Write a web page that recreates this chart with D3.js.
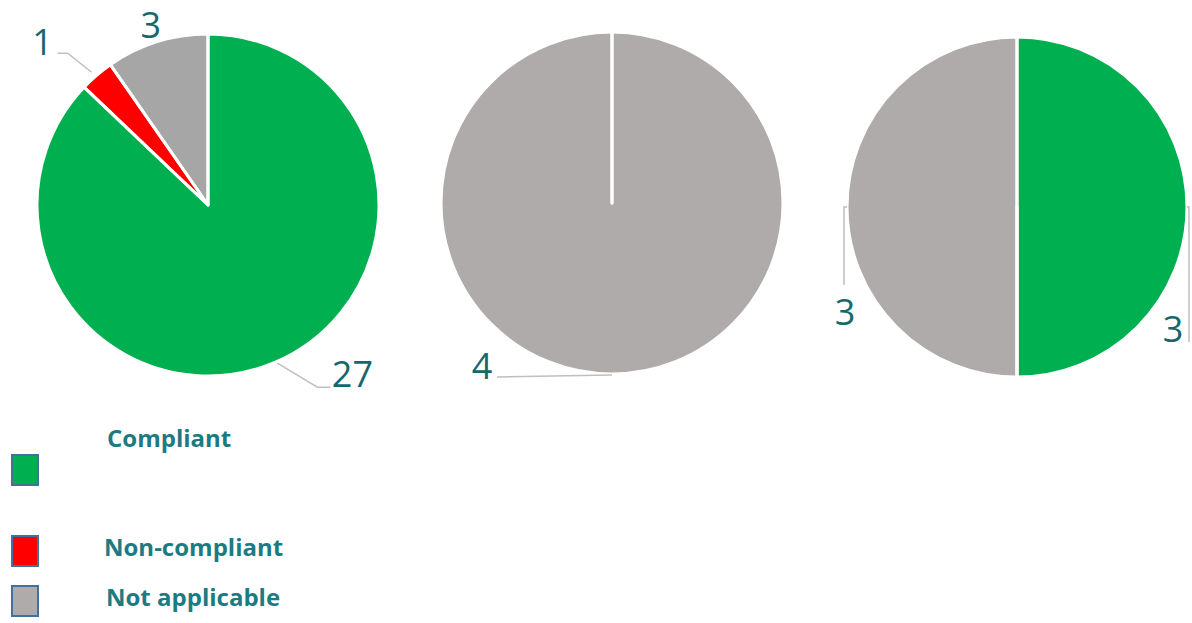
<!DOCTYPE html>
<html>
<head>
<meta charset="utf-8">
<script src="https://cdn.jsdelivr.net/npm/d3@7"></script>
<style>
  html, body { margin: 0; padding: 0; background: #ffffff; }
  svg { display: block; }
</style>
</head>
<body>
<div id="chart"></div>
<script>
// category names, in slice order (clockwise from 12 o'clock)
const categories = ["Compliant", "Non-compliant", "Not applicable"];
// counts per pie
const pie1Values = [27, 1, 3];
const pie2Values = [0, 0, 4];
const pie3Values = [3, 0, 3];

const colors = {
  green: '#00B050',
  red: '#FF0000',
  gray1: '#A6A6A6',
  gray: '#AFABAB',
  label: '#17676C',
  legendText: '#1C7B82',
  leader: '#BFBFBF',
  legendBorder: '#41719C'
};

const W = 1192, H = 623;
const svg = d3.select('#chart').append('svg')
  .attr('width', W)
  .attr('height', H);

// layout of each pie; labels are placed relative to the edge point at the slice mid angle
const pies = [
  {
    values: pie1Values, cx: 208, cy: 205, r: 171,
    fills: [colors.green, colors.red, colors.gray1],
    labels: [
      { i: 0, leader: [[2, 1], [42, 25], [55, 25]], text: [77, 12] },
      { i: 1, leader: [[-5, -3], [-29, -22], [-39, -22]], text: [-54, -33] },
      { i: 2, leader: null, text: [-6, -16] }
    ]
  },
  {
    values: pie2Values, cx: 612, cy: 203, r: 171,
    fills: [colors.green, colors.red, colors.gray],
    labels: [
      { i: 2, leader: [[0, 1], [-115, 3]], text: [-130, -8] }
    ]
  },
  {
    values: pie3Values, cx: 1017, cy: 207, r: 170,
    fills: [colors.green, colors.red, colors.gray],
    labels: [
      { i: 0, leader: [[0, 0], [2, 0], [2, 135]], text: [-14, 122] },
      { i: 2, leader: [[0, 0], [-3, 0], [-3, 78]], text: [-2, 105] }
    ]
  }
];

const pie = d3.pie().sort(null).value(d => d);

pies.forEach(p => {
  const arcs = pie(p.values);
  const arc = d3.arc().innerRadius(0).outerRadius(p.r);
  const g = svg.append('g').attr('transform', 'translate(' + p.cx + ',' + p.cy + ')');

  g.selectAll('path.slice')
    .data(arcs)
    .enter()
    .append('path')
    .attr('class', 'slice')
    .attr('d', arc)
    .attr('fill', (d, i) => p.fills[i]);

  // white slice borders drawn on top, so empty slices still show their edge
  g.selectAll('path.border')
    .data(arcs)
    .enter()
    .append('path')
    .attr('class', 'border')
    .attr('d', arc)
    .attr('fill', 'none')
    .attr('stroke', '#ffffff')
    .attr('stroke-width', 3)
    .attr('stroke-linejoin', 'round');

  p.labels.forEach(l => {
    const a = arcs[l.i];
    const mid = (a.startAngle + a.endAngle) / 2;
    const ex = p.r * Math.sin(mid);
    const ey = -p.r * Math.cos(mid);
    if (l.leader) {
      g.append('polyline')
        .attr('points', l.leader.map(pt => (ex + pt[0]) + ',' + (ey + pt[1])).join(' '))
        .attr('fill', 'none')
        .attr('stroke', colors.leader)
        .attr('stroke-width', 1.5);
    }
    g.append('text')
      .attr('x', ex + l.text[0])
      .attr('y', ey + l.text[1])
      .attr('dy', '0.35em')
      .attr('text-anchor', 'middle')
      .attr('font-family', '"Open Sans", sans-serif')
      .attr('font-size', 36)
      .attr('fill', colors.label)
      .text(a.data);
  });
});

// legend
const legendFills = [colors.green, colors.red, colors.gray];
const legendBoxY = [455, 536, 586];
const legendTextX = [107, 104, 106];
const legendTextY = [447, 556, 606];

const legend = svg.append('g').attr('class', 'legend');
legend.selectAll('rect')
  .data(categories)
  .enter()
  .append('rect')
  .attr('x', 12)
  .attr('y', (d, i) => legendBoxY[i])
  .attr('width', 26)
  .attr('height', 30)
  .attr('fill', (d, i) => legendFills[i])
  .attr('stroke', colors.legendBorder)
  .attr('stroke-width', 2);

legend.selectAll('text')
  .data(categories)
  .enter()
  .append('text')
  .attr('x', (d, i) => legendTextX[i])
  .attr('y', (d, i) => legendTextY[i])
  .attr('font-family', '"Open Sans", sans-serif')
  .attr('font-weight', 'bold')
  .attr('font-size', 24)
  .attr('fill', colors.legendText)
  .text(d => d);
</script>
</body>
</html>
